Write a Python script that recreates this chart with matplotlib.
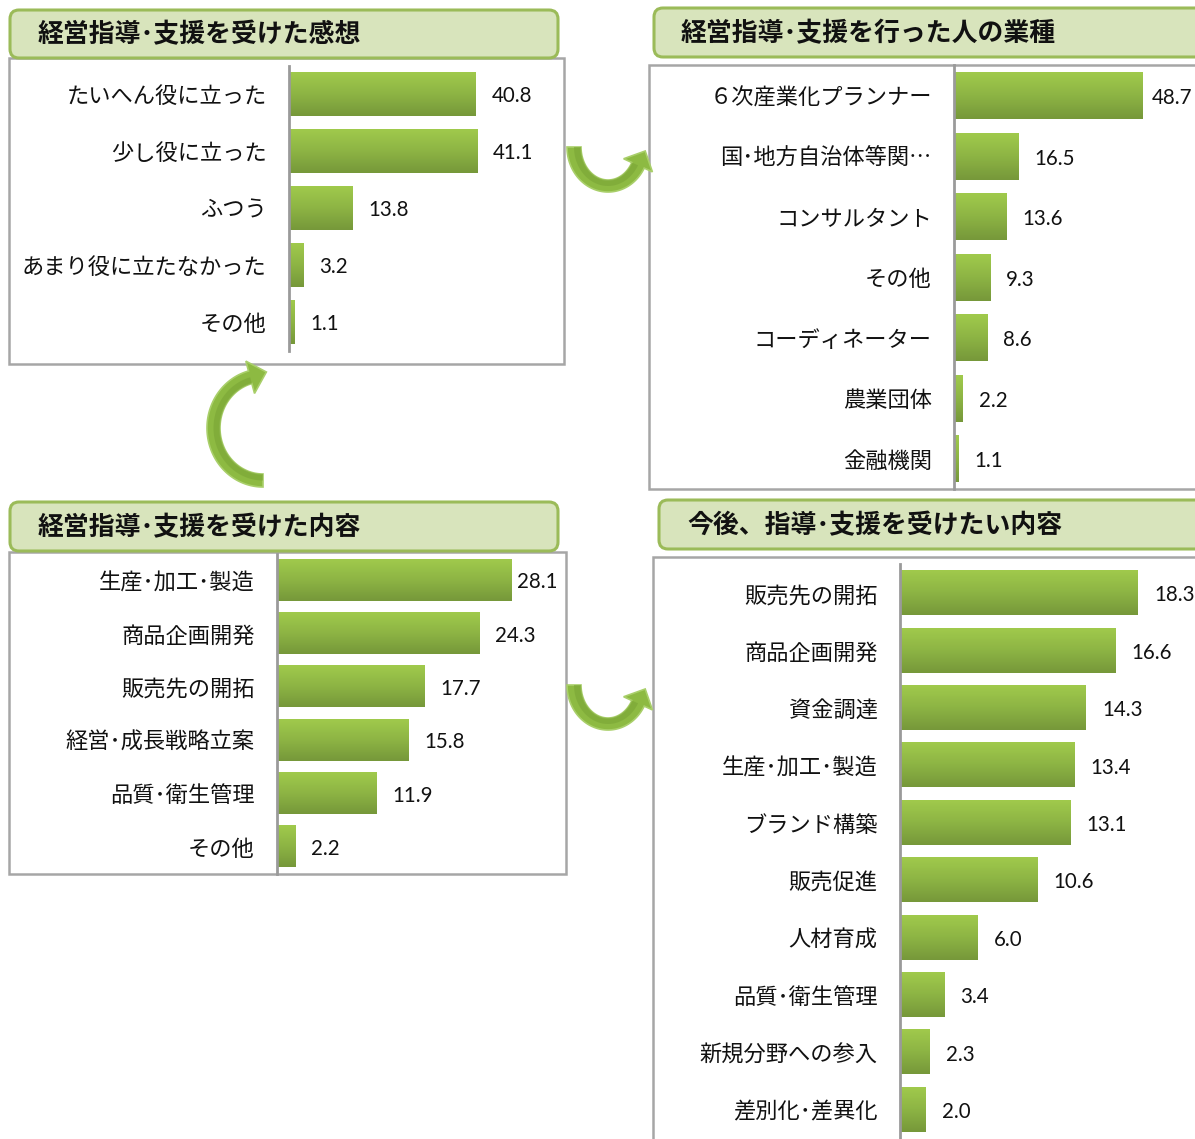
import numpy as np
import matplotlib.pyplot as plt
from matplotlib.patches import FancyBboxPatch, Rectangle, Polygon
from matplotlib.colors import LinearSegmentedColormap

plt.rcParams['font.family'] = ['Noto Sans CJK JP', 'DejaVu Sans']

W, H = 1195, 1139

# data
feel_labels = ['たいへん役に立った', '少し役に立った', 'ふつう', 'あまり役に立たなかった', 'その他']
feel_values = [40.8, 41.1, 13.8, 3.2, 1.1]

who_labels = ['６次産業化プランナー', '国･地方自治体等関…', 'コンサルタント', 'その他',
              'コーディネーター', '農業団体', '金融機関']
who_values = [48.7, 16.5, 13.6, 9.3, 8.6, 2.2, 1.1]

got_labels = ['生産･加工･製造', '商品企画開発', '販売先の開拓', '経営･成長戦略立案',
              '品質･衛生管理', 'その他']
got_values = [28.1, 24.3, 17.7, 15.8, 11.9, 2.2]

want_labels = ['販売先の開拓', '商品企画開発', '資金調達', '生産･加工･製造', 'ブランド構築',
               '販売促進', '人材育成', '品質･衛生管理', '新規分野への参入', '差別化･差異化']
want_values = [18.3, 16.6, 14.3, 13.4, 13.1, 10.6, 6.0, 3.4, 2.3, 2.0]

titles = ['経営指導･支援を受けた感想', '経営指導･支援を行った人の業種',
          '経営指導･支援を受けた内容', '今後、指導･支援を受けたい内容']

bar_cmap = LinearSegmentedColormap.from_list('bar', ['#a0ca4c', '#8db444', '#76983a'])
grad = np.linspace(0, 1, 64).reshape(-1, 1)


def fig_rect(x0, y0, x1, y1):
    return [x0 / W, 1 - y1 / H, (x1 - x0) / W, (y1 - y0) / H]


fig = plt.figure(figsize=(W / 100, H / 100), dpi=100)
bg = fig.add_axes([0, 0, 1, 1])
bg.set_xlim(0, W)
bg.set_ylim(H, 0)
bg.axis('off')


def panel(title, labels, values, tbox, title_x, frame, axis_x, top, bottom, right, ppu, label_lim):
    bg.add_patch(Rectangle((frame[0], frame[1]), frame[2] - frame[0], frame[3] - frame[1],
                           fc='white', ec='#a6a6a6', lw=1.8))
    bg.add_patch(FancyBboxPatch((tbox[0], tbox[1]), tbox[2] - tbox[0], tbox[3] - tbox[1],
                                boxstyle='round,pad=0,rounding_size=9',
                                fc='#d8e4bc', ec='#9bbb59', lw=2.2))
    bg.text(title_x, (tbox[1] + tbox[3]) / 2 + 1, title, fontsize=18.6, fontweight='bold',
            ha='left', va='center', color='#111111')

    ax = fig.add_axes(fig_rect(axis_x, top, right, bottom))
    ax.patch.set_alpha(0)
    n = len(values)
    xmax = (right - axis_x) / ppu
    for i, v in enumerate(values):
        ax.imshow(grad, extent=[0, v, i + 0.385, i - 0.385], cmap=bar_cmap,
                  aspect='auto', interpolation='bilinear', zorder=2)
        # Excel-style: label sits right of the bar, pulled in if it would run out
        lx = min(v * ppu + 16, label_lim - 44 - axis_x) / ppu
        ax.text(lx, i + 0.04, f'{v:.1f}', ha='left', va='center', fontsize=14.8,
                family=['Lato', 'DejaVu Sans'], color='#111111')
    ax.set_xlim(0, xmax)
    ax.set_ylim(n - 0.5, -0.5)
    ax.set_yticks(range(n))
    ax.set_yticklabels(labels, fontsize=16, color='#111111')
    ax.set_xticks([])
    ax.tick_params(axis='y', length=0, pad=16)
    for s in ['top', 'right', 'bottom']:
        ax.spines[s].set_visible(False)
    ax.spines['left'].set_color('#9a9a9a')
    ax.spines['left'].set_linewidth(2)
    return ax


def curved_arrow(cx, cy, rxo, ryo, rxi, ryi, t0, t1, head_len, head_w):
    ts = np.radians(np.linspace(t0, t1, 80))
    outer = np.c_[cx + rxo * np.cos(ts), cy + ryo * np.sin(ts)]
    inner = np.c_[cx + rxi * np.cos(ts), cy + ryi * np.sin(ts)]
    mid = (outer + inner) / 2
    tan = mid[-1] - mid[-3]
    tan = tan / np.hypot(*tan)
    nrm = outer[-1] - inner[-1]
    nrm = nrm / np.hypot(*nrm)
    head = [outer[-1] + nrm * head_w * 0.3, mid[-1] + tan * head_len,
            inner[-1] - nrm * head_w * 0.3]
    pts = np.vstack([outer, head, inner[::-1]])
    bg.add_patch(Polygon(pts, closed=True, fc='#8dba42', ec='#a9cf6a', lw=1.2, zorder=3))
    # darker inner band for a bit of depth
    rx_m, ry_m = (rxo + rxi) / 2, (ryo + ryi) / 2
    shade = np.vstack([np.c_[cx + rx_m * np.cos(ts), cy + ry_m * np.sin(ts)],
                       inner[::-1]])
    bg.add_patch(Polygon(shade, closed=True, fc='#7aa536', ec='none', zorder=3.5, alpha=0.6))


panel(titles[0], feel_labels, feel_values, (10, 10, 558, 58), 38,
      (9, 58, 564, 364), 289, 65.5, 350.5, 564, 4.58, 600)
panel(titles[1], who_labels, who_values, (654, 8, 1210, 57), 681,
      (649, 65, 1210, 489), 954, 65.5, 489, 1195, 3.88, 1196)
panel(titles[2], got_labels, got_values, (10, 502, 558, 551), 38,
      (9, 552, 566, 874), 277, 553.5, 873.5, 566, 8.33, 561)
panel(titles[3], want_labels, want_values, (659, 500, 1210, 549), 687,
      (653, 557, 1210, 1150), 900, 564.5, 1138.5, 1195, 13.0, 1198)

curved_arrow(608, 147, 41, 45, 27, 33, 180, 28, 16, 30)
curved_arrow(608, 685, 41, 45, 27, 33, 180, 28, 16, 30)
curved_arrow(263, 428, 56, 59, 43, 46, 90, 255, 17, 34)

fig.savefig('out.png', dpi=100)
